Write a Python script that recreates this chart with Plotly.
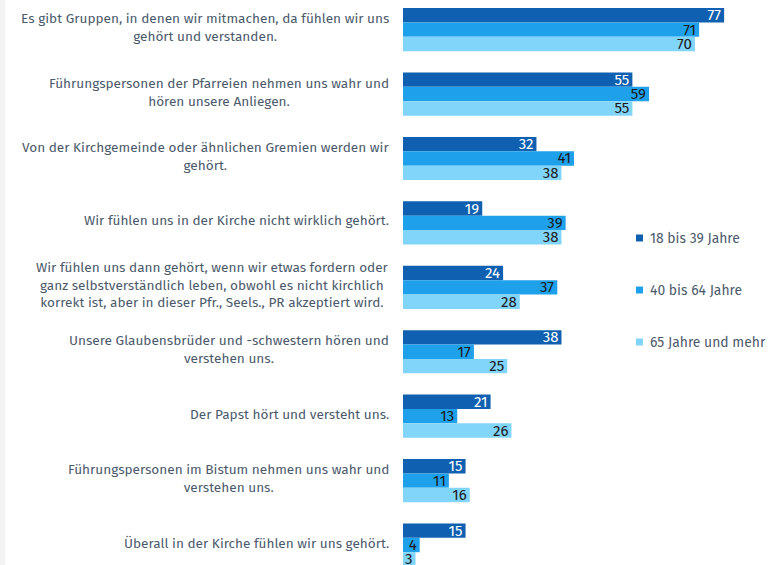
import plotly.graph_objects as go

categories = [
    "Es gibt Gruppen, in denen wir mitmachen, da fühlen wir uns<br>gehört und verstanden.",
    "Führungspersonen der Pfarreien nehmen uns wahr und<br>hören unsere Anliegen.",
    "Von der Kirchgemeinde oder ähnlichen Gremien werden wir<br>gehört.",
    "Wir fühlen uns in der Kirche nicht wirklich gehört.",
    "Wir fühlen uns dann gehört, wenn wir etwas fordern oder<br>ganz selbstverständlich leben, obwohl es nicht kirchlich<br>korrekt ist, aber in dieser Pfr., Seels., PR akzeptiert wird.",
    "Unsere Glaubensbrüder und -schwestern hören und<br>verstehen uns.",
    "Der Papst hört und versteht uns.",
    "Führungspersonen im Bistum nehmen uns wahr und<br>verstehen uns.",
    "Überall in der Kirche fühlen wir uns gehört.",
]
series_names = ["18 bis 39 Jahre", "40 bis 64 Jahre", "65 Jahre und mehr"]
values_18_39 = [77, 55, 32, 19, 24, 38, 21, 15, 15]
values_40_64 = [71, 59, 41, 39, 37, 17, 13, 11, 4]
values_65_plus = [70, 55, 38, 38, 28, 25, 26, 16, 3]

colors = ["#0f60b0", "#1fa0ea", "#82d5fa"]
label_colors = ["#ffffff", "#1a1a1a", "#1a1a1a"]
FONT = "Fira Sans, Lato, Roboto, sans-serif"
TXT = "#4b5a6b"

W, H = 775, 565
ML, MR = 403, 5
plot_w = W - ML - MR

def px_x(p):
    return (p - ML) / plot_w

def px_y(p):
    return 1 - p / H

fig = go.Figure()
for name, vals, col, lc in zip(series_names, [values_18_39, values_40_64, values_65_plus], colors, label_colors):
    fig.add_trace(go.Bar(
        y=categories, x=vals, orientation="h", name=name,
        marker=dict(color=col, line=dict(width=0)),
        text=[str(v) for v in vals], textposition="inside", insidetextanchor="end",
        textangle=0, constraintext="none", cliponaxis=True,
        textfont=dict(family=FONT, size=15, color=lc),
        showlegend=False, hoverinfo="skip",
    ))

for c in categories:
    fig.add_annotation(
        x=0, xref="paper", y=c, yref="y", text=c, showarrow=False,
        xanchor="right", yanchor="middle", align="center", xshift=-12, yshift=2,
        font=dict(family=FONT, size=13.6, color=TXT),
    )

# custom legend
legend_y = [238, 290, 342]
for name, col, ly in zip(series_names, colors, legend_y):
    fig.add_shape(type="rect", xref="paper", yref="paper",
                  x0=px_x(636), x1=px_x(643), y0=px_y(ly + 3.5), y1=px_y(ly - 3.5),
                  fillcolor=col, line=dict(width=0))
    fig.add_annotation(x=px_x(648), xref="paper", y=px_y(ly), yref="paper",
                       text=name, showarrow=False, xanchor="left", yanchor="middle",
                       font=dict(family=FONT, size=13.9, color=TXT))

fig.add_shape(type="rect", xref="paper", yref="paper",
              x0=px_x(0), x1=px_x(5), y0=0, y1=1,
              fillcolor="#f3f3f3", line=dict(width=0), layer="above")

fig.update_layout(
    width=W, height=H,
    margin=dict(l=ML, r=MR, t=0, b=0, pad=0),
    barmode="group", bargap=0.33, bargroupgap=0,
    plot_bgcolor="white", paper_bgcolor="white",
    font=dict(family=FONT, size=13.6, color=TXT),
    xaxis=dict(range=[0, 88], visible=False, fixedrange=True),
    yaxis=dict(type="category", range=[8.31, -0.46], showticklabels=False,
               showgrid=False, zeroline=False, showline=False, ticks="", fixedrange=True),
    showlegend=False,
)

fig.write_html("out.html", config={"displayModeBar": False},
               post_script="document.body.style.margin='0';document.body.style.overflow='hidden';")
